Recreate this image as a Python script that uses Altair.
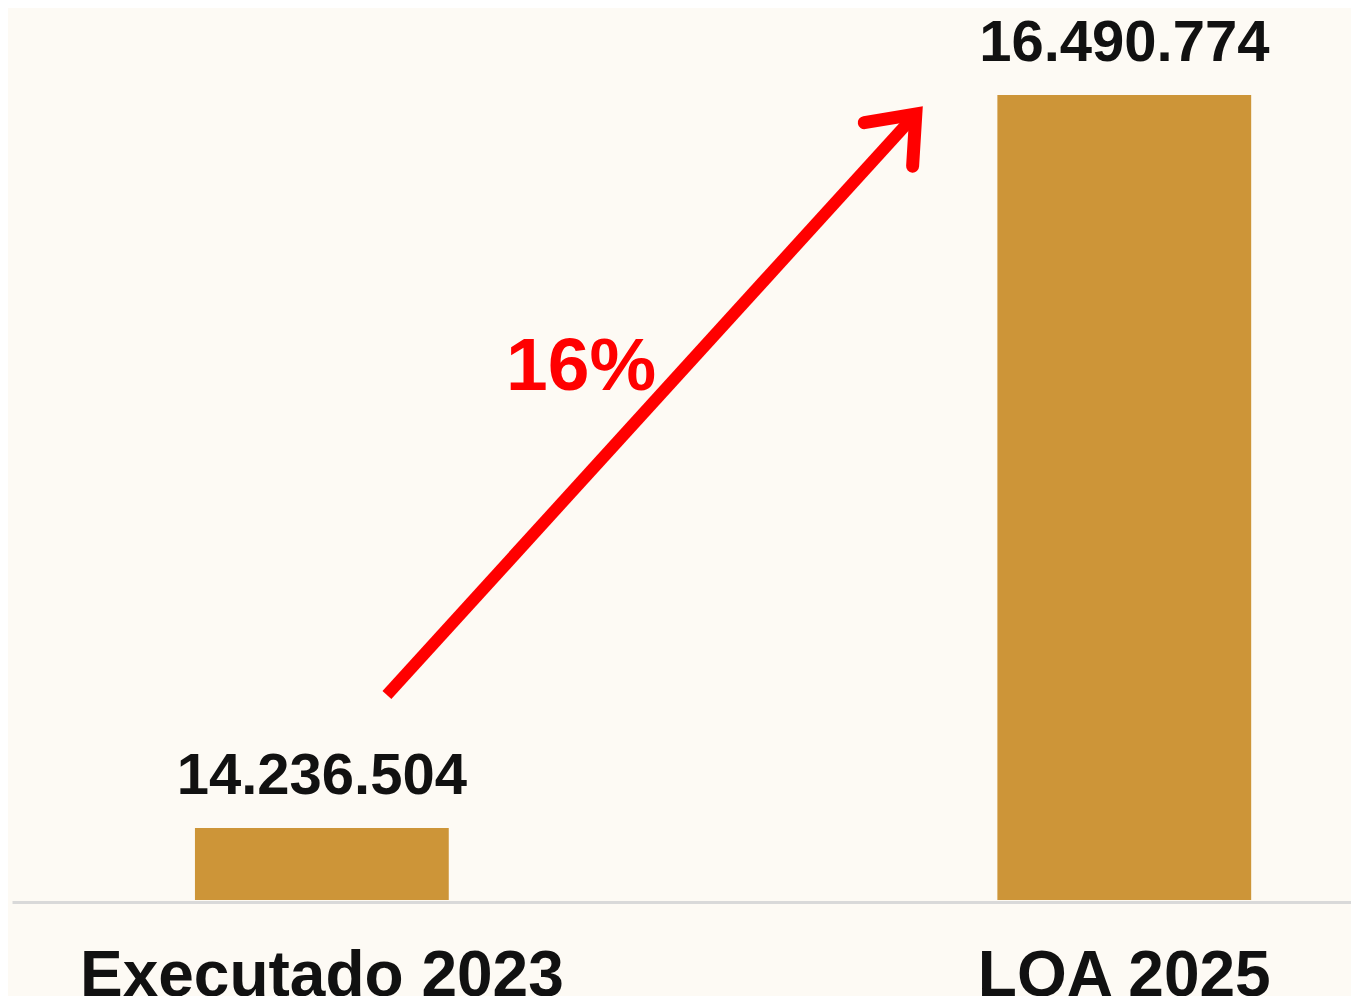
import altair as alt
import pandas as pd

# ---- data ----
categories = ["Executado 2023", "LOA 2025"]
values = [14236504, 16490774]
value_labels = [f"{v:,}".replace(",", ".") for v in values]

# annotation (arrow + growth label); x in fraction of plot width, y in value units
arrow_x = [0.280, 0.675]
arrow_y = [14645538, 16432339]
growth_label = ["16%"]
growth_x = [0.425]
growth_y = [15583527]

BAR = "#CD9538"
BG = "#FDFAF4"
RED = "#FF0000"
FONT = "Liberation Sans"

y_scale = alt.Scale(domain=[14015075, 16752183], zero=False, nice=False)
x_scale = alt.Scale(paddingInner=0.6837, paddingOuter=0.1762, align=0.647)

bars_df = pd.DataFrame({"cat": categories, "val": values, "lab": value_labels})
arrow_df = pd.DataFrame({"ax": arrow_x, "ay": arrow_y, "order": [0, 1]})
head_df = pd.DataFrame({"ax": [arrow_x[1]], "ay": [arrow_y[1]]})
growth_df = pd.DataFrame({"gx": growth_x, "gy": growth_y, "t": growth_label})

x_enc = alt.X(
    "cat:N",
    sort=categories,
    scale=x_scale,
    title=None,
    axis=alt.Axis(
        labelAngle=0,
        labelFont=FONT,
        labelFontWeight="bold",
        labelFontSize=64,
        labelColor="#111111",
        labelBaseline="alphabetic",
        labelPadding=93,
        labelLimit=1000,
        labelOverlap=False,
        ticks=False,
        grid=False,
        domainColor="#D9D9D9",
        domainWidth=3,
        offset=2,
    ),
)

bars = alt.Chart(bars_df).mark_bar(color=BAR, clip=True).encode(
    x=x_enc,
    y=alt.Y("val:Q", scale=y_scale, axis=None),
)

labels = alt.Chart(bars_df).mark_text(
    font=FONT, fontWeight="bold", fontSize=58, color="#111111",
    baseline="alphabetic", align="center", dy=-34,
).encode(
    x=alt.X("cat:N", sort=categories, scale=x_scale),
    y=alt.Y("val:Q", scale=y_scale, axis=None),
    text="lab:N",
)

ann_x = alt.Scale(domain=[0, 1], nice=False, zero=False)

shaft = alt.Chart(arrow_df).mark_line(
    color=RED, strokeWidth=12, strokeCap="butt"
).encode(
    x=alt.X("ax:Q", scale=ann_x, axis=None),
    y=alt.Y("ay:Q", scale=y_scale, axis=None),
    order="order:Q",
)

head = alt.Chart(head_df).mark_point(
    shape="M -0.62 0.78 L 0 0 L 0.62 0.78",
    filled=False, stroke=RED, strokeWidth=13, size=11000, angle=42,
    strokeJoin="miter", strokeCap="round", opacity=1,
).encode(
    x=alt.X("ax:Q", scale=ann_x, axis=None),
    y=alt.Y("ay:Q", scale=y_scale, axis=None),
)

growth = alt.Chart(growth_df).mark_text(
    font=FONT, fontWeight="bold", fontSize=75, color=RED,
    baseline="alphabetic", align="center",
).encode(
    x=alt.X("gx:Q", scale=ann_x, axis=None),
    y=alt.Y("gy:Q", scale=y_scale, axis=None),
    text="t:N",
)

base = alt.layer(bars, labels)
ann = alt.layer(shaft, head, growth)

chart = (
    alt.layer(base, ann)
    .resolve_scale(x="independent")
    .properties(
        width=1339,
        height=890,
        autosize=alt.AutoSizeParams(type="none"),
        padding={"left": 4, "top": 2, "right": 0, "bottom": 96},
        background=BG,
    )
    .configure_view(stroke=None)
)

chart.save("out.html", embed_options={"renderer": "svg", "actions": False})
